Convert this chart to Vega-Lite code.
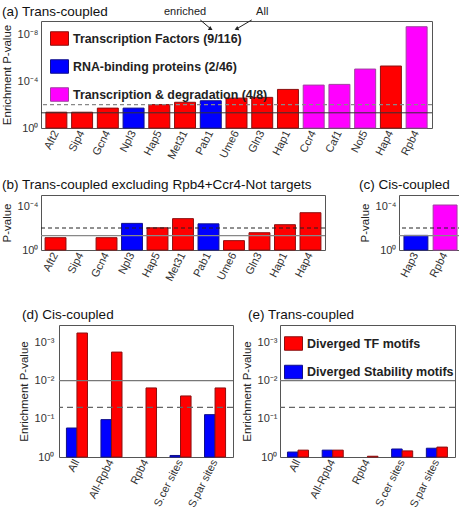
{
  "$schema": "https://vega.github.io/schema/vega-lite/v6.json",
  "padding": {"left": 0, "top": 4, "right": 0, "bottom": 0},
  "background": "white",
  "spacing": 15,
  "config": {
    "font": "Liberation Sans",
    "view": {"stroke": "#555", "strokeWidth": 1},
    "axis": {"labelFont": "Liberation Sans", "titleFont": "Liberation Sans", "labelFontSize": 11, "titleFontSize": 11.5, "titleFontWeight": "normal", "labelColor": "#333", "titleColor": "#222", "ticks": false, "domain": false, "grid": false},
    "axisX": {"labelAngle": -63, "labelPadding": 3, "title": null},
    "axisY": {"labelPadding": 3, "titlePadding": 5},
    "title": {"fontSize": 13.5, "fontWeight": "normal", "anchor": "start", "color": "#111", "font": "Liberation Sans"},
    "legend": {"title": null, "orient": "none", "symbolType": "M-1,-0.75H1V0.75H-1Z", "symbolSize": 324, "symbolStrokeColor": "#444", "symbolStrokeWidth": 1, "symbolOpacity": 1, "labelFontWeight": "bold", "labelColor": "#222", "labelFont": "Liberation Sans", "labelOffset": 4, "padding": 0, "labelLimit": 300}
  },
  "datasets": {
    "a": [
      {"protein": "Aft2", "neglog10p": 1.35, "category": "Transcription Factors (9/116)"},
      {"protein": "Sip4", "neglog10p": 1.35, "category": "Transcription Factors (9/116)"},
      {"protein": "Gcn4", "neglog10p": 1.7, "category": "Transcription Factors (9/116)"},
      {"protein": "Npl3", "neglog10p": 1.7, "category": "RNA-binding proteins (2/46)"},
      {"protein": "Hap5", "neglog10p": 2.0, "category": "Transcription Factors (9/116)"},
      {"protein": "Met31", "neglog10p": 2.2, "category": "Transcription Factors (9/116)"},
      {"protein": "Pab1", "neglog10p": 2.33, "category": "RNA-binding proteins (2/46)"},
      {"protein": "Ume6", "neglog10p": 2.56, "category": "Transcription Factors (9/116)"},
      {"protein": "Gln3", "neglog10p": 2.62, "category": "Transcription Factors (9/116)"},
      {"protein": "Hap1", "neglog10p": 3.3, "category": "Transcription Factors (9/116)"},
      {"protein": "Ccr4", "neglog10p": 3.67, "category": "Transcription & degradation (4/8)"},
      {"protein": "Caf1", "neglog10p": 3.73, "category": "Transcription & degradation (4/8)"},
      {"protein": "Not5", "neglog10p": 5.04, "category": "Transcription & degradation (4/8)"},
      {"protein": "Hap4", "neglog10p": 5.3, "category": "Transcription Factors (9/116)"},
      {"protein": "Rpb4", "neglog10p": 8.66, "category": "Transcription & degradation (4/8)"}
    ],
    "b": [
      {"protein": "Aft2", "neglog10p": 1.12, "category": "Transcription Factors (9/116)"},
      {"protein": "Gcn4", "neglog10p": 1.12, "category": "Transcription Factors (9/116)"},
      {"protein": "Npl3", "neglog10p": 2.42, "category": "RNA-binding proteins (2/46)"},
      {"protein": "Hap5", "neglog10p": 2.02, "category": "Transcription Factors (9/116)"},
      {"protein": "Met31", "neglog10p": 2.85, "category": "Transcription Factors (9/116)"},
      {"protein": "Pab1", "neglog10p": 2.38, "category": "RNA-binding proteins (2/46)"},
      {"protein": "Ume6", "neglog10p": 0.85, "category": "Transcription Factors (9/116)"},
      {"protein": "Gln3", "neglog10p": 1.57, "category": "Transcription Factors (9/116)"},
      {"protein": "Hap1", "neglog10p": 2.3, "category": "Transcription Factors (9/116)"},
      {"protein": "Hap4", "neglog10p": 3.39, "category": "Transcription Factors (9/116)"}
    ],
    "c": [
      {"protein": "Hap3", "neglog10p": 1.33, "category": "RNA-binding proteins (2/46)"},
      {"protein": "Rpb4", "neglog10p": 4.09, "category": "Transcription & degradation (4/8)"}
    ],
    "d": [
      {"site": "All", "motif": "Diverged Stability motifs", "neglog10p": 0.76},
      {"site": "All", "motif": "Diverged TF motifs", "neglog10p": 3.25},
      {"site": "All-Rpb4", "motif": "Diverged Stability motifs", "neglog10p": 0.98},
      {"site": "All-Rpb4", "motif": "Diverged TF motifs", "neglog10p": 2.75},
      {"site": "Rpb4", "motif": "Diverged TF motifs", "neglog10p": 1.81},
      {"site": "S.cer sites", "motif": "Diverged Stability motifs", "neglog10p": 0.04},
      {"site": "S.cer sites", "motif": "Diverged TF motifs", "neglog10p": 1.6},
      {"site": "S.par sites", "motif": "Diverged Stability motifs", "neglog10p": 1.11},
      {"site": "S.par sites", "motif": "Diverged TF motifs", "neglog10p": 1.81}
    ],
    "e": [
      {"site": "All", "motif": "Diverged Stability motifs", "neglog10p": 0.13},
      {"site": "All", "motif": "Diverged TF motifs", "neglog10p": 0.18},
      {"site": "All-Rpb4", "motif": "Diverged Stability motifs", "neglog10p": 0.18},
      {"site": "All-Rpb4", "motif": "Diverged TF motifs", "neglog10p": 0.18},
      {"site": "Rpb4", "motif": "Diverged TF motifs", "neglog10p": 0.02},
      {"site": "S.cer sites", "motif": "Diverged Stability motifs", "neglog10p": 0.21},
      {"site": "S.cer sites", "motif": "Diverged TF motifs", "neglog10p": 0.16},
      {"site": "S.par sites", "motif": "Diverged Stability motifs", "neglog10p": 0.23},
      {"site": "S.par sites", "motif": "Diverged TF motifs", "neglog10p": 0.26}
    ]
  },
  "resolve": {"scale": {"color": "independent", "stroke": "independent"}},
  "vconcat": [
    {
      "width": 391,
      "height": 107,
      "title": {"text": "(a) Trans-coupled", "offset": -12, "dx": 1},
      "layer": [
        {
          "data": {"name": "a"},
          "mark": {"type": "bar", "strokeWidth": 1},
          "encoding": {
            "x": {"field": "protein", "type": "nominal", "sort": null, "scale": {"paddingInner": 0.185, "paddingOuter": 0.19}},
            "y": {"field": "neglog10p", "type": "quantitative", "scale": {"domain": [0, 9.15], "nice": false}, "axis": {"title": "Enrichment P-value", "values": [0, 2, 4, 6, 8], "labelExpr": "['10⁰','10⁻¹','10⁻²','10⁻³','10⁻⁴','10⁻⁵','10⁻⁶','10⁻⁷','10⁻⁸','10⁻⁹'][datum.value]"}},
            "color": {"field": "category", "type": "nominal", "scale": {"domain": ["Transcription Factors (9/116)", "RNA-binding proteins (2/46)", "Transcription & degradation (4/8)"], "range": ["#ff0000", "#0000ff", "#ff00ff"]}, "legend": {"legendX": 9, "legendY": 8, "labelFontSize": 12.4, "rowPadding": 9}},
            "stroke": {"field": "category", "type": "nominal", "scale": {"domain": ["Transcription Factors (9/116)", "RNA-binding proteins (2/46)", "Transcription & degradation (4/8)"], "range": ["#8b1010", "#10108b", "#a040a0"]}, "legend": null}
          }
        },
        {"data": {"values": [{}]}, "mark": {"type": "rule", "strokeDash": [4, 3], "color": "#888", "strokeWidth": 1.2}, "encoding": {"y": {"datum": 2}}},
        {"data": {"values": [{}]}, "mark": {"type": "rule", "color": "#333", "strokeWidth": 1}, "encoding": {"y": {"datum": 1.3}}},
        {
          "data": {"values": [{"protein": "Met31", "label": "enriched"}, {"protein": "Gln3", "label": "All"}]},
          "mark": {"type": "text", "fontSize": 11, "baseline": "middle", "align": "center", "color": "#222"},
          "encoding": {"x": {"field": "protein", "type": "nominal", "sort": null}, "y": {"datum": 9.88}, "text": {"field": "label"}}
        },
        {
          "data": {"values": [{"from": "Pab1", "to": "Pab1"}, {"from": "Gln3", "to": "Ume6"}]},
          "mark": {"type": "rule", "color": "#222", "strokeWidth": 1},
          "encoding": {"x": {"field": "from", "type": "nominal", "sort": null, "bandPosition": 0}, "x2": {"field": "to", "bandPosition": 0.5}, "y": {"datum": 9.24}, "y2": {"datum": 8.47}}
        },
        {
          "data": {"values": [{"to": "Pab1"}]},
          "mark": {"type": "point", "shape": "triangle-right", "filled": true, "color": "#222", "size": 22, "angle": 31, "opacity": 1},
          "encoding": {"x": {"field": "to", "type": "nominal", "sort": null}, "y": {"datum": 8.47}}
        },
        {
          "data": {"values": [{"to": "Ume6"}]},
          "mark": {"type": "point", "shape": "triangle-right", "filled": true, "color": "#222", "size": 22, "angle": 155, "opacity": 1},
          "encoding": {"x": {"field": "to", "type": "nominal", "sort": null}, "y": {"datum": 8.47}}
        }
      ]
    },
    {
      "spacing": 31,
      "resolve": {"scale": {"color": "independent", "stroke": "independent"}},
      "hconcat": [
        {
          "width": 284,
          "height": 55,
          "title": {"text": "(b) Trans-coupled excluding Rpb4+Ccr4-Not targets", "dx": 1},
          "layer": [
            {
              "data": {"name": "b"},
              "mark": {"type": "bar", "strokeWidth": 1},
              "encoding": {
                "x": {"field": "protein", "type": "nominal", "scale": {"domain": ["Aft2", "Sip4", "Gcn4", "Npl3", "Hap5", "Met31", "Pab1", "Ume6", "Gln3", "Hap1", "Hap4"], "paddingInner": 0.18, "paddingOuter": 0.16}, "axis": {"title": " ", "titleFontSize": 6, "titlePadding": 2}},
                "y": {"field": "neglog10p", "type": "quantitative", "scale": {"domain": [0, 5], "nice": false}, "axis": {"title": "P-value", "values": [0, 2, 4], "labelExpr": "['10⁰','10⁻¹','10⁻²','10⁻³','10⁻⁴','10⁻⁵'][datum.value]"}},
                "color": {"field": "category", "type": "nominal", "scale": {"domain": ["Transcription Factors (9/116)", "RNA-binding proteins (2/46)", "Transcription & degradation (4/8)"], "range": ["#ff0000", "#0000ff", "#ff00ff"]}, "legend": null},
                "stroke": {"field": "category", "type": "nominal", "scale": {"domain": ["Transcription Factors (9/116)", "RNA-binding proteins (2/46)", "Transcription & degradation (4/8)"], "range": ["#8b1010", "#10108b", "#a040a0"]}, "legend": null}
              }
            },
            {"data": {"values": [{}]}, "mark": {"type": "rule", "strokeDash": [4, 3], "color": "#222", "strokeWidth": 1}, "encoding": {"y": {"datum": 2}}},
            {"data": {"values": [{}]}, "mark": {"type": "rule", "color": "#888", "strokeWidth": 1.3}, "encoding": {"y": {"datum": 1.3}}}
          ]
        },
        {
          "width": 63,
          "height": 55,
          "title": {"text": "(c) Cis-coupled"},
          "layer": [
            {
              "data": {"name": "c"},
              "mark": {"type": "bar", "strokeWidth": 1},
              "encoding": {
                "x": {"field": "protein", "type": "nominal", "sort": null, "scale": {"paddingInner": 0.18, "paddingOuter": 0.17}},
                "y": {"field": "neglog10p", "type": "quantitative", "scale": {"domain": [0, 5], "nice": false}, "axis": {"title": "P-value", "values": [0, 2, 4], "labelExpr": "['10⁰','10⁻¹','10⁻²','10⁻³','10⁻⁴','10⁻⁵'][datum.value]"}},
                "color": {"field": "category", "type": "nominal", "scale": {"domain": ["Transcription Factors (9/116)", "RNA-binding proteins (2/46)", "Transcription & degradation (4/8)"], "range": ["#ff0000", "#0000ff", "#ff00ff"]}, "legend": null},
                "stroke": {"field": "category", "type": "nominal", "scale": {"domain": ["Transcription Factors (9/116)", "RNA-binding proteins (2/46)", "Transcription & degradation (4/8)"], "range": ["#8b1010", "#10108b", "#a040a0"]}, "legend": null}
              }
            },
            {"data": {"values": [{}]}, "mark": {"type": "rule", "strokeDash": [4, 3], "color": "#222", "strokeWidth": 1}, "encoding": {"y": {"datum": 2}}},
            {"data": {"values": [{}]}, "mark": {"type": "rule", "color": "#888", "strokeWidth": 1.3}, "encoding": {"y": {"datum": 1.3}}}
          ]
        }
      ]
    },
    {
      "title": {"text": "(d) Cis-coupled", "offset": -14, "dx": 4},
      "spacing": 0,
      "resolve": {"scale": {"color": "independent", "stroke": "independent"}},
      "hconcat": [
        {
          "width": 16,
          "height": 132,
          "view": {"stroke": null},
          "data": {"values": [{}]},
          "mark": {"type": "rule", "opacity": 0},
          "encoding": {"y": {"datum": 0, "type": "quantitative", "scale": {"domain": [0, 3.46], "nice": false}, "axis": {"title": "Enrichment P-value", "offset": -16, "values": [0, 1, 2, 3], "labelExpr": "['10⁰','10⁻¹','10⁻²','10⁻³'][datum.value]"}}}
        },
        {
          "spacing": 5,
          "resolve": {"scale": {"color": "independent", "stroke": "independent"}},
          "hconcat": [
            {
              "width": 174,
              "height": 132,
              "layer": [
                {
                  "data": {"name": "d"},
                  "mark": {"type": "bar", "strokeWidth": 1},
                  "encoding": {
                    "x": {"field": "site", "type": "nominal", "sort": null, "scale": {"paddingInner": 0.39, "paddingOuter": 0.215}},
                    "xOffset": {"field": "motif", "type": "nominal", "sort": ["Diverged Stability motifs", "Diverged TF motifs"], "scale": {"paddingInner": 0, "paddingOuter": 0}},
                    "y": {"field": "neglog10p", "type": "quantitative", "scale": {"domain": [0, 3.46], "nice": false}, "axis": null},
                    "color": {"field": "motif", "type": "nominal", "scale": {"domain": ["Diverged TF motifs", "Diverged Stability motifs"], "range": ["#ff0000", "#0000ff"]}, "legend": null},
                    "stroke": {"field": "motif", "type": "nominal", "scale": {"domain": ["Diverged TF motifs", "Diverged Stability motifs"], "range": ["#8b1010", "#10108b"]}, "legend": null}
                  }
                },
                {"data": {"values": [{}]}, "mark": {"type": "rule", "color": "#777", "strokeWidth": 1.3}, "encoding": {"y": {"datum": 2}}},
                {"data": {"values": [{}]}, "mark": {"type": "rule", "strokeDash": [6, 4], "color": "#666", "strokeWidth": 1.2}, "encoding": {"y": {"datum": 1.3}}}
              ]
            },
            {
              "width": 175,
              "height": 132,
              "title": {"text": "(e) Trans-coupled", "dx": 7},
              "layer": [
                {
                  "data": {"name": "e"},
                  "mark": {"type": "bar", "strokeWidth": 1},
                  "encoding": {
                    "x": {"field": "site", "type": "nominal", "sort": null, "scale": {"paddingInner": 0.39, "paddingOuter": 0.215}},
                    "xOffset": {"field": "motif", "type": "nominal", "sort": ["Diverged Stability motifs", "Diverged TF motifs"], "scale": {"paddingInner": 0, "paddingOuter": 0}},
                    "y": {"field": "neglog10p", "type": "quantitative", "scale": {"domain": [0, 3.46], "nice": false}, "axis": {"title": "Enrichment P-value", "values": [0, 1, 2, 3], "labelExpr": "['10⁰','10⁻¹','10⁻²','10⁻³'][datum.value]"}},
                    "color": {"field": "motif", "type": "nominal", "scale": {"domain": ["Diverged TF motifs", "Diverged Stability motifs"], "range": ["#ff0000", "#0000ff"]}, "legend": {"legendX": 4, "legendY": 9, "labelFontSize": 12.5, "rowPadding": 9.5}},
                    "stroke": {"field": "motif", "type": "nominal", "scale": {"domain": ["Diverged TF motifs", "Diverged Stability motifs"], "range": ["#8b1010", "#10108b"]}, "legend": null}
                  }
                },
                {"data": {"values": [{}]}, "mark": {"type": "rule", "strokeDash": [6, 4], "color": "#666", "strokeWidth": 1.2}, "encoding": {"y": {"datum": 1.3}}},
                {"data": {"values": [{}]}, "mark": {"type": "rule", "color": "#777", "strokeWidth": 1.3}, "encoding": {"y": {"datum": 2}}}
              ]
            }
          ]
        }
      ]
    }
  ]
}
